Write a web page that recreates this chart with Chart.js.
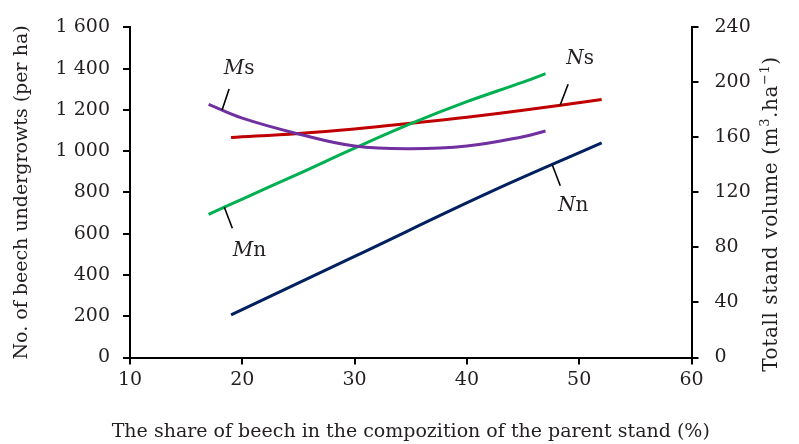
<!DOCTYPE html>
<html>
<head>
<meta charset="utf-8">
<script src="https://cdn.jsdelivr.net/npm/chart.js@4"></script>
<style>
  html, body { margin: 0; padding: 0; background: #fff; }
  #wrap { width: 799px; height: 444px; }
</style>
</head>
<body>
<div id="wrap"><canvas id="chart"></canvas></div>
<script>
// Ns / Nn : number of beech undergrowths (per ha) - left axis
const nsX = [19, 25, 30, 35, 40, 45, 52];
const nsY = [1066, 1086, 1108, 1135, 1164, 1198, 1251];
const nnX = [19, 30, 42, 52];
const nnY = [207, 490, 800, 1040];
// Ms / Mn : total stand volume (m3/ha) - right axis
const msX = [17, 20, 25, 30, 35, 40, 45, 47];
const msY = [184, 174, 162.5, 153.7, 151.7, 153.7, 160.5, 164.7];
const mnX = [17, 20, 25, 30, 35, 40, 45, 47];
const mnY = [104, 115.2, 133.5, 152.2, 170, 186, 200.2, 206.4];

const xTicks = [10, 20, 30, 40, 50, 60];
const leftTicks = [0, 200, 400, 600, 800, 1000, 1200, 1400, 1600];
const rightTicks = [0, 40, 80, 120, 160, 200, 240];

const FONT = '"DejaVu Serif", "Liberation Serif", serif';
const INK = '#231f20';

function pts(xs, ys) {
    return xs.map((x, i) => ({ x: x, y: ys[i] }));
}

function fmt(v) {
    // 1600 -> "1 600"
    return String(v).replace(/\B(?=(\d{3})+(?!\d))/g, ' ');
}

// labels with leader lines, anchored on the curves
const notes = [
    { ds: 0, at: 18.2, a: 'M', b: 's', lx: 7, ly: -21, tx: 17, ty: -41 },
    { ds: 1, at: 18.4, a: 'M', b: 'n', lx: 8, ly: 21, tx: 25, ty: 44 },
    { ds: 2, at: 48.3, a: 'N', b: 's', lx: 8, ly: -21, tx: 20, ty: -46 },
    { ds: 3, at: 47.6, a: 'N', b: 'n', lx: 8, ly: 21, tx: 21, ty: 41 }
];

function interp(data, x) {
    for (let i = 0; i < data.length - 1; i++) {
        if (x >= data[i].x && x <= data[i + 1].x) {
            const t = (x - data[i].x) / (data[i + 1].x - data[i].x);
            return data[i].y + t * (data[i + 1].y - data[i].y);
        }
    }
    return data[0].y;
}

const labelPlugin = {
    id: 'labels',
    afterDatasetsDraw(chart) {
        const ctx = chart.ctx;
        const xs = chart.scales.x;
        ctx.save();
        notes.forEach(n => {
            const ds = chart.data.datasets[n.ds];
            const ys = chart.scales[ds.yAxisID];
            const px = xs.getPixelForValue(n.at);
            const py = ys.getPixelForValue(interp(ds.data, n.at));
            ctx.strokeStyle = '#000';
            ctx.lineWidth = 1.6;
            ctx.beginPath();
            ctx.moveTo(px, py);
            ctx.lineTo(px + n.lx, py + n.ly);
            ctx.stroke();
            // italic letter + upright letter
            ctx.fillStyle = INK;
            ctx.textBaseline = 'middle';
            ctx.textAlign = 'left';
            ctx.font = 'italic 20px ' + FONT;
            const wa = ctx.measureText(n.a).width;
            ctx.font = '20px ' + FONT;
            const wb = ctx.measureText(n.b).width;
            let sx = px + n.tx - (wa + wb) / 2;
            ctx.font = 'italic 20px ' + FONT;
            ctx.fillText(n.a, sx, py + n.ty);
            ctx.font = '20px ' + FONT;
            ctx.fillText(n.b, sx + wa, py + n.ty);
        });

        // x axis title (drawn here so it is not squeezed to the axis width)
        ctx.font = '19px ' + FONT;
        ctx.textAlign = 'center';
        ctx.textBaseline = 'middle';
        ctx.fillText('The share of beech in the compozition of the parent stand (%)',
            (xs.left + xs.right) / 2, 432);

        // right axis title, reading bottom to top, with superscripts
        const parts = [
            ['Totall stand volume (m', false],
            ['3', true],
            ['.ha', false],
            ['\u22121', true],
            [')', false]
        ];
        ctx.textAlign = 'left';
        ctx.letterSpacing = '0.6px';
        let total = 0;
        parts.forEach(p => {
            ctx.font = (p[1] ? '13px ' : '20px ') + FONT;
            total += ctx.measureText(p[0]).width;
        });
        ctx.translate(770, 214);
        ctx.rotate(-Math.PI / 2);
        let cx = -total / 2;
        ctx.textBaseline = 'alphabetic';
        parts.forEach(p => {
            ctx.font = (p[1] ? '13px ' : '20px ') + FONT;
            ctx.fillText(p[0], cx, p[1] ? -1 : 7);
            cx += ctx.measureText(p[0]).width;
        });
        ctx.restore();
    }
};

const tickFont = { family: FONT, size: 19 };

new Chart(document.getElementById('chart'), {
    type: 'line',
    data: {
        datasets: [
            { label: 'Ms', data: pts(msX, msY), yAxisID: 'y1', borderColor: '#7030a0' },
            { label: 'Mn', data: pts(mnX, mnY), yAxisID: 'y1', borderColor: '#00b050' },
            { label: 'Ns', data: pts(nsX, nsY), yAxisID: 'y', borderColor: '#c00000' },
            { label: 'Nn', data: pts(nnX, nnY), yAxisID: 'y', borderColor: '#002060' }
        ].map(d => Object.assign(d, {
            borderWidth: 3,
            pointRadius: 0,
            tension: 0.4,
            fill: false
        }))
    },
    options: {
        responsive: true,
        maintainAspectRatio: false,
        animation: false,
        layout: { padding: { top: 27, left: 0, right: 0, bottom: 0 } },
        plugins: {
            legend: { display: false },
            tooltip: { enabled: false }
        },
        scales: {
            x: {
                type: 'linear',
                min: 10,
                max: 60,
                afterBuildTicks: s => { s.ticks = xTicks.map(v => ({ value: v })); },
                afterFit: s => { s.height = 86.5; },
                ticks: { font: tickFont, color: INK, padding: 4, maxRotation: 0 },
                grid: { drawOnChartArea: false, tickLength: 7, color: '#000', lineWidth: 2 },
                border: { color: '#000', width: 2 }
            },
            y: {
                position: 'left',
                min: 0,
                max: 1600,
                afterBuildTicks: s => { s.ticks = leftTicks.map(v => ({ value: v })); },
                afterFit: s => { s.width = 130; },
                ticks: { font: tickFont, color: INK, padding: 13, callback: v => fmt(v) },
                grid: { drawOnChartArea: false, tickLength: 7, color: '#000', lineWidth: 2 },
                border: { color: '#000', width: 2 },
                title: {
                    display: true,
                    text: 'No. of beech undergrowts (per ha)',
                    font: { family: FONT, size: 19 },
                    color: INK,
                    padding: { top: 11, bottom: 0 }
                }
            },
            y1: {
                position: 'right',
                min: 0,
                max: 240,
                afterBuildTicks: s => { s.ticks = rightTicks.map(v => ({ value: v })); },
                afterFit: s => { s.width = 107.5; },
                ticks: { font: tickFont, color: INK, padding: 16 },
                grid: { drawOnChartArea: false, tickLength: 7, color: '#000', lineWidth: 2 },
                border: { color: '#000', width: 2 }
            }
        }
    },
    plugins: [labelPlugin]
});
</script>
</body>
</html>
